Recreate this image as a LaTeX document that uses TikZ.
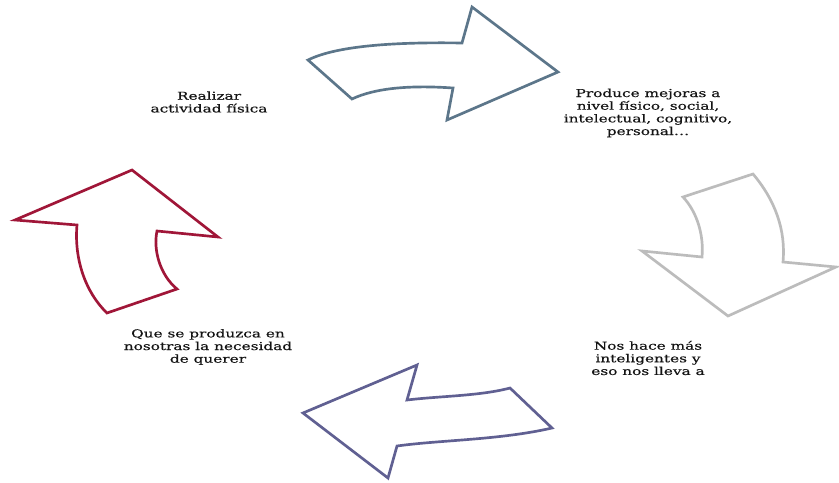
\documentclass[tikz,border=0pt]{standalone}
\usepackage{fontspec}
\setmainfont[FakeStretch=1.4,FakeBold=0.4]{DejaVu Serif}
\usetikzlibrary{positioning}
\definecolor{slate}{RGB}{92,118,138}
\definecolor{ash}{RGB}{188,188,188}
\definecolor{dusk}{RGB}{96,96,146}
\definecolor{wine}{RGB}{160,22,56}
\definecolor{ink}{RGB}{20,20,20}

\begin{document}
\begin{tikzpicture}[x=0.75pt,y=-0.75pt,
  bigarrow/.style={line width=2pt,line join=miter,fill=white,draw=#1},
  caption/.style={align=center,text=ink,inner sep=0pt,font=\fontsize{8.2}{9.5}\selectfont}]
\useasboundingbox[fill=white] (0,0) rectangle (839,482);
\draw[bigarrow=slate] (308,60) .. controls (338,45) and (400,42) .. (462,43) -- (472,7) -- (558,72) -- (447,120) -- (453,88) .. controls (410,85) and (375,88) .. (352,99) -- cycle;
\draw[bigarrow=ash] (683,197) -- (753,174) .. controls (775,200) and (786,230) .. (783,262) -- (836,267) -- (728,316) -- (642,251) -- (702,257) .. controls (704,235) and (697,212) .. (683,197) -- cycle;
\draw[bigarrow=dusk] (417,365) -- (407,400) .. controls (440,396) and (480,396) .. (510,388) -- (552,428) .. controls (500,440) and (440,440) .. (397,446) -- (388,478) -- (303,413) -- cycle;
\draw[bigarrow=wine] (132,170) -- (218,237) -- (157,231) .. controls (153,250) and (160,275) .. (177,289) -- (107,313) .. controls (85,292) and (74,258) .. (77,225) -- (15,220) -- cycle;
\node[caption] (realizar) at (209,102) {Realizar\\actividad física};
\node[caption] (mejoras) at (648,113) {Produce mejoras a\\nivel físico, social,\\intelectual, cognitivo,\\personal…};
\node[caption] (inteligentes) at (648,358) {Nos hace más\\inteligentes y\\eso nos lleva a};
\node[caption] (necesidad) at (208,347) {Que se produzca en\\nosotras la necesidad\\de querer};
\end{tikzpicture}
\end{document}
